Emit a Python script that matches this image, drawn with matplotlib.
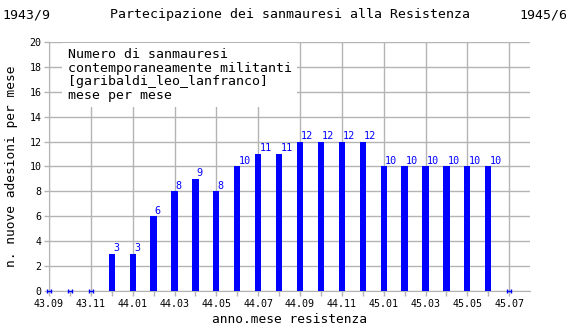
import numpy as np
import matplotlib.pyplot as plt

months = ['43.09', '43.10', '43.11', '43.12', '44.01', '44.02', '44.03', '44.04',
          '44.05', '44.06', '44.07', '44.08', '44.09', '44.10', '44.11', '44.12',
          '45.01', '45.02', '45.03', '45.04', '45.05', '45.06', '45.07']
values = [0, 0, 0, 3, 3, 6, 8, 9, 8, 10, 11, 11, 12, 12, 12, 12,
          10, 10, 10, 10, 10, 10, 0]

mono = 'DejaVu Sans Mono'
grey = '#b4b4b4'

fig = plt.figure(figsize=(5.7, 3.3), dpi=100)
ax = fig.add_axes([0.086, 0.118, 0.844, 0.755])

x = np.arange(len(months))
vals = np.array(values)
nz = vals > 0

ax.bar(x[nz], vals[nz], width=0.3, color='#0000ff', zorder=3)
ax.errorbar(x[~nz], vals[~nz], xerr=0.1, fmt='none', ecolor='#0000ff',
            elinewidth=1, capsize=1.5, capthick=1, zorder=4, clip_on=False)
for xi, v in zip(x[nz], vals[nz]):
    ax.text(xi + 0.06, v + 0.05, str(v), ha='left', va='bottom', color='#0000ff',
            fontsize=7.3, family=mono, zorder=5)

ax.set_xlim(0, 23)
ax.set_ylim(0, 20)
ax.set_xticks(x[::2])
ax.set_xticklabels(months[::2])
ax.set_xticks(x[1::2], minor=True)
ax.set_yticks(np.arange(0, 21, 2))
ax.grid(True, which='major', color=grey, linewidth=1, zorder=0)
ax.tick_params(which='both', color=grey, length=3.5, width=1, labelsize=7.2, pad=2)
ax.tick_params(axis='x', which='both', top=False, direction='out')
for lab in ax.get_xticklabels() + ax.get_yticklabels():
    lab.set_family(mono)
for s in ['top', 'right']:
    ax.spines[s].set_visible(False)
for s in ['left', 'bottom']:
    ax.spines[s].set_color(grey)

ax.set_xlabel('anno.mese resistenza', family=mono, fontsize=9.3, labelpad=3)
ax.set_ylabel('n. nuove adesioni per mese', family=mono, fontsize=9.3, labelpad=8)

ax.text(0.9, 19.5, 'Numero di sanmauresi\ncontemporaneamente militanti\n'
        '[garibaldi_leo_lanfranco]\nmese per mese',
        ha='left', va='top', family=mono, fontsize=9.5, linespacing=1.05, zorder=6,
        bbox=dict(facecolor='white', edgecolor='none', pad=4))

fig.text(0.005, 0.955, '1943/9', ha='left', va='center', family=mono, fontsize=9.5)
fig.text(0.508, 0.955, 'Partecipazione dei sanmauresi alla Resistenza',
         ha='center', va='center', family=mono, fontsize=9.5)
fig.text(0.995, 0.955, '1945/6', ha='right', va='center', family=mono, fontsize=9.5)

fig.savefig('out.png', dpi=100)
